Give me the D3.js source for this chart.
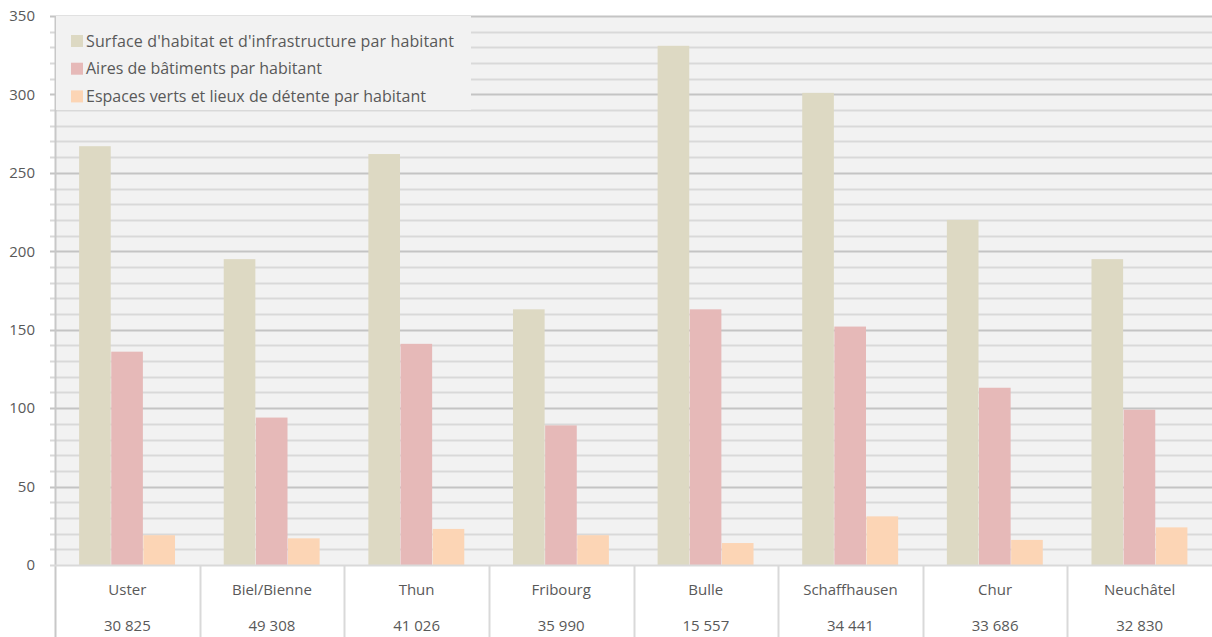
<!DOCTYPE html>
<html>
<head>
<meta charset="utf-8">
<script src="https://cdn.jsdelivr.net/npm/d3@7"></script>
<style>
  body { margin: 0; background: #fff; }
  svg { display: block; font-family: "Open Sans", sans-serif; }
</style>
</head>
<body>
<svg width="1212" height="637"></svg>
<script>

var cities = ["Uster", "Biel/Bienne", "Thun", "Fribourg", "Bulle", "Schaffhausen", "Chur", "Neuchâtel"];
var population = ["30 825", "49 308", "41 026", "35 990", "15 557", "34 441", "33 686", "32 830"];

var seriesNames = [
  "Surface d'habitat et d'infrastructure par habitant",
  "Aires de bâtiments par habitant",
  "Espaces verts et lieux de détente par habitant"
];
var habitat = [267, 195, 262, 163, 331, 301, 220, 195];
var batiments = [136, 94, 141, 89, 163, 152, 113, 99];
var espaces = [19, 17, 23, 19, 14, 31, 16, 24];

var colors = ["#ddd9c3", "#e6b9b8", "#fcd5b5"];

var svg = d3.select("svg"),
    width = +svg.attr("width"),
    height = +svg.attr("height");

var margin = {left: 55, right: 0, top: 16, bottom: 72};
var plotBottom = height - margin.bottom;

var y = d3.scaleLinear().domain([0, 350]).range([plotBottom, margin.top]);
var x0 = d3.scaleBand().domain(cities).range([margin.left, width]);

// bar width: 3 bars + gap of 1.5 bar
var bw = x0.bandwidth() / 4.5;
var x1 = d3.scaleBand().domain([0, 1, 2])
    .range([bw * 0.75, x0.bandwidth() - bw * 0.75]);

var rows = cities.map(function(c, i) {
  return {city: c, values: [habitat[i], batiments[i], espaces[i]]};
});

// plot background
svg.append("rect")
    .attr("x", margin.left).attr("y", margin.top)
    .attr("width", width - margin.left).attr("height", plotBottom - margin.top)
    .attr("fill", "#f2f2f2");

// gridlines: minor every 10, major every 50
var grid = svg.append("g");
grid.selectAll("line")
    .data(d3.range(10, 351, 10))
  .enter().append("line")
    .attr("x1", margin.left - 5)
    .attr("x2", width)
    .attr("y1", function(d) { return Math.round(y(d)) + 0.5; })
    .attr("y2", function(d) { return Math.round(y(d)) + 0.5; })
    .attr("stroke", function(d) { return d % 50 === 0 ? "#c4c4c4" : "#d9d9d9"; })
    .attr("stroke-width", 2);

// bars
var group = svg.append("g").selectAll("g")
    .data(rows)
  .enter().append("g")
    .attr("transform", function(d) { return "translate(" + x0(d.city) + ",0)"; });

group.selectAll("rect")
    .data(function(d) { return d.values; })
  .enter().append("rect")
    .attr("x", function(d, i) { return x1(i); })
    .attr("width", x1.bandwidth() - 0.5)
    .attr("y", function(d) { return y(d); })
    .attr("height", function(d) { return plotBottom - y(d); })
    .attr("fill", function(d, i) { return colors[i]; });

// y axis
var yAxis = svg.append("g")
    .attr("transform", "translate(" + margin.left + ",0)")
    .call(d3.axisLeft(y).tickValues(d3.range(0, 351, 50)).tickSize(0).tickPadding(20));
yAxis.select(".domain").remove();
yAxis.selectAll("text")
    .attr("fill", "#595959")
    .attr("font-size", 15)
    .attr("font-family", "Open Sans, sans-serif");

svg.append("line")
    .attr("x1", margin.left + 0.5).attr("x2", margin.left + 0.5)
    .attr("y1", margin.top).attr("y2", height)
    .attr("stroke", "#c8c8c8").attr("stroke-width", 2);

// category area
svg.append("line")
    .attr("x1", margin.left - 5).attr("x2", width)
    .attr("y1", plotBottom + 0.5).attr("y2", plotBottom + 0.5)
    .attr("stroke", "#d9d9d9").attr("stroke-width", 2);

svg.append("g").selectAll("line")
    .data(cities.slice(1))
  .enter().append("line")
    .attr("x1", function(d) { return Math.round(x0(d)) + 0.5; })
    .attr("x2", function(d) { return Math.round(x0(d)) + 0.5; })
    .attr("y1", plotBottom).attr("y2", height)
    .attr("stroke", "#d9d9d9").attr("stroke-width", 2);

var labels = svg.append("g")
    .attr("fill", "#595959")
    .attr("font-size", 15)
    .attr("text-anchor", "middle");

labels.selectAll(".city")
    .data(cities)
  .enter().append("text")
    .attr("class", "city")
    .attr("x", function(d) { return x0(d) + x0.bandwidth() / 2; })
    .attr("y", plotBottom + 30)
    .text(function(d) { return d; });

labels.selectAll(".pop")
    .data(population)
  .enter().append("text")
    .attr("class", "pop")
    .attr("x", function(d, i) { return x0(cities[i]) + x0.bandwidth() / 2; })
    .attr("y", plotBottom + 66)
    .text(function(d) { return d; });

// legend
var legend = svg.append("g");
legend.append("rect")
    .attr("x", margin.left + 1).attr("y", margin.top)
    .attr("width", 415).attr("height", 94)
    .attr("fill", "#f2f2f2");

var item = legend.selectAll(".item")
    .data(seriesNames)
  .enter().append("g")
    .attr("class", "item")
    .attr("transform", function(d, i) { return "translate(71," + (41 + i * 27.7) + ")"; });

item.append("rect")
    .attr("y", -6).attr("width", 12).attr("height", 12)
    .attr("fill", function(d, i) { return colors[i]; });

item.append("text")
    .attr("x", 15).attr("dy", "0.35em")
    .attr("fill", "#595959")
    .attr("font-size", 16)
    .attr("textLength", function(d, i) { return i === 0 ? 368 : null; })
    .text(function(d) { return d; });

</script>
</body>
</html>
